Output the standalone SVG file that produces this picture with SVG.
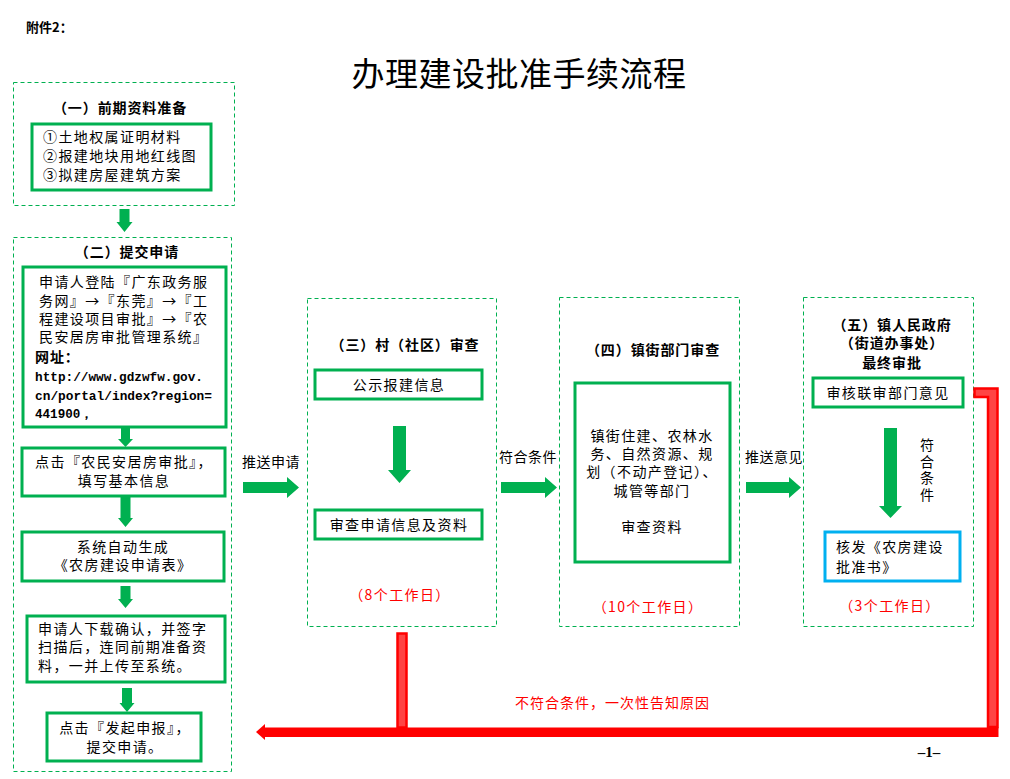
<svg xmlns="http://www.w3.org/2000/svg" width="1010" height="779" viewBox="0 0 1010 779">
<style>
text{font-family:"Noto Sans CJK SC","Liberation Sans",sans-serif;fill:#000}
.t{font-size:14px;letter-spacing:1.4px}
.h{font-size:14px;font-weight:bold;letter-spacing:0.9px}
.c{text-anchor:middle}
.red{fill:#ff0000}
.url{font-family:"Liberation Mono","DejaVu Sans Mono",monospace;font-size:12.6px;font-weight:bold}
.dash{fill:none;stroke:#00b050;stroke-width:1;stroke-dasharray:4,3}
.box{fill:#fff;stroke:#00b050;stroke-width:3}
.blue{fill:#fff;stroke:#00b0f0;stroke-width:3}
.ga{fill:#00b050}
.rb{fill:#ff4444;stroke:#ff0000;stroke-width:2.5}
</style>
<rect width="1010" height="779" fill="#fff"/>
<text x="26" y="32" style="font-size:13px;font-weight:bold">附件2：</text>
<text x="519" y="86" class="c" style="font-size:33px;font-weight:400;letter-spacing:0.5px">办理建设批准手续流程</text>

<g id="stage1">
<rect class="dash" x="13.5" y="82.5" width="221" height="123"/>
<text x="120" y="113" class="h c">（一）前期资料准备</text>
<rect class="box" x="32" y="124" width="179" height="66"/>
<text x="43" y="142" class="t">①土地权属证明材料</text>
<text x="43" y="161" class="t">②报建地块用地红线图</text>
<text x="43" y="180" class="t">③拟建房屋建筑方案</text>
</g>

<g id="stage2">
<rect class="dash" x="13.5" y="237.5" width="218" height="534"/>
<text x="127" y="257" class="h c">（二）提交申请</text>
<g id="s2-login">
<rect class="box" x="23" y="267" width="203" height="160"/>
<text x="39" y="287" class="t">申请人登陆『广东政务服</text>
<text x="39" y="306" class="t">务网』→『东莞』→『工</text>
<text x="39" y="324" class="t">程建设项目审批』→『农</text>
<text x="39" y="342" class="t">民安居房审批管理系统』</text>
<text x="35" y="362" class="h">网址：</text>
<text x="35" y="381" class="url" textLength="168" lengthAdjust="spacingAndGlyphs">http://www.gdzwfw.gov.</text>
<text x="35" y="400" class="url" textLength="177" lengthAdjust="spacingAndGlyphs">cn/portal/index?region=</text>
<text x="35" y="418" class="url">441900，</text>
</g>
<g id="s2-click">
<rect class="box" x="22" y="448" width="203" height="48"/>
<text x="124" y="467" class="t c">点击『农民安居房审批』，</text>
<text x="124" y="486" class="t c">填写基本信息</text>
</g>
<g id="s2-gen">
<rect class="box" x="22" y="532" width="202" height="49"/>
<text x="123" y="552" class="t c">系统自动生成</text>
<text x="123" y="570" class="t c">《农房建设申请表》</text>
</g>
<g id="s2-download">
<rect class="box" x="27" y="616" width="198" height="66"/>
<text x="38" y="634" class="t">申请人下载确认，并签字</text>
<text x="38" y="652" class="t">扫描后，连同前期准备资</text>
<text x="38" y="671" class="t">料，一并上传至系统。</text>
</g>
<g id="s2-submit">
<rect class="box" x="47" y="713" width="154" height="48"/>
<text x="125" y="733" class="t c">点击『发起申报』，</text>
<text x="125" y="752" class="t c">提交申请。</text>
</g>
</g>

<g id="stage3">
<rect class="dash" x="307.5" y="298.5" width="189" height="328"/>
<text x="405" y="350" class="h c">（三）村（社区）审查</text>
<g id="s3-publish">
<rect class="box" x="315" y="370" width="167" height="29"/>
<text x="399" y="390" class="t c">公示报建信息</text>
</g>
<g id="s3-review">
<rect class="box" x="315" y="510" width="167" height="29"/>
<text x="399" y="530" class="t c">审查申请信息及资料</text>
</g>
<text x="400" y="600" class="t c red">（8个工作日）</text>
</g>

<g id="stage4">
<rect class="dash" x="559.5" y="297.5" width="180" height="329"/>
<text x="653" y="355" class="h c">（四）镇街部门审查</text>
<rect class="box" x="575" y="383" width="155" height="179"/>
<text x="652" y="441" class="t c">镇街住建、农林水</text>
<text x="652" y="459" class="t c">务、自然资源、规</text>
<text x="652" y="477" class="t c">划（不动产登记）、</text>
<text x="652" y="496" class="t c">城管等部门</text>
<text x="652" y="532" class="t c">审查资料</text>
<text x="648" y="612" class="t c red">（10个工作日）</text>
</g>

<g id="stage5">
<rect class="dash" x="803.5" y="297.5" width="170" height="329"/>
<text x="892" y="330" class="h c">（五）镇人民政府</text>
<text x="892" y="348" class="h c">（街道办事处）</text>
<text x="892" y="368" class="h c">最终审批</text>
<g id="s5-check">
<rect class="box" x="813" y="378" width="150" height="29"/>
<text x="888" y="398" class="t c">审核联审部门意见</text>
</g>
<g id="s5-issue">
<rect class="blue" x="825" y="532" width="135" height="49"/>
<text x="836" y="552" class="t">核发《农房建设</text>
<text x="836" y="572" class="t">批准书》</text>
</g>
<text x="927" y="438" style="font-size:14px;writing-mode:vertical-rl;letter-spacing:2.5px">符合条件</text>
<text x="890" y="611" class="t c red">（3个工作日）</text>
</g>

<g id="connectors">
<polygon class="ga" points="119.5,209 129.5,209 129.5,222 132.5,222 124.5,232 116.5,222 119.5,222"/>
<polygon class="ga" points="121,427 130,427 130,439 133,439 125.5,447 118,439 121,439"/>
<polygon class="ga" points="120.5,497 130.5,497 130.5,518 133,518 125.5,527 118,518 120.5,518"/>
<polygon class="ga" points="120.5,586 130.5,586 130.5,599 133,599 125.5,608 118,599 120.5,599"/>
<polygon class="ga" points="122,688 132,688 132,703 134.5,703 127,712 119.5,703 122,703"/>
<polygon class="ga" points="393,426 406,426 406,470 411,470 399.5,483 388,470 393,470"/>
<polygon class="ga" points="884,428 897,428 897,506 902,506 890.5,518 879,506 884,506"/>
<polygon class="ga" points="243,482 287,482 287,477 299,487.5 287,498 287,493 243,493"/>
<polygon class="ga" points="501,482 545,482 545,477 557,487.5 545,498 545,493 501,493"/>
<polygon class="ga" points="746,482 789,482 789,477 801,487.5 789,498 789,493 746,493"/>
<text x="242" y="467" class="t" style="letter-spacing:0.5px">推送申请</text>
<text x="499" y="462" class="t" style="letter-spacing:0.5px">符合条件</text>
<text x="745" y="462" class="t" style="letter-spacing:0.5px">推送意见</text>
<rect class="rb" x="397.5" y="633.5" width="9" height="94"/>
<polygon class="rb" points="974.5,388.5 997.5,388.5 997.5,727 988,727 988,397 974.5,397"/>
<polygon fill="#ff0000" points="256,732 265,724 265,727.5 998.5,727.5 998.5,737 265,737 265,740"/>
<text x="515" y="708" class="t red" style="letter-spacing:1px">不符合条件，一次性告知原因</text>
</g>
<text x="929" y="757" class="c" style="font-family:'Liberation Serif',serif;font-size:15px;font-weight:bold">–1–</text>
</svg>
